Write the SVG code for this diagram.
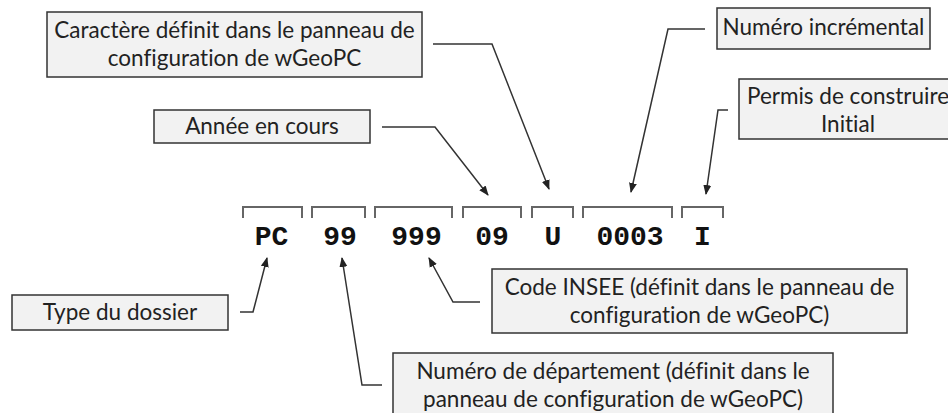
<svg xmlns="http://www.w3.org/2000/svg" width="948" height="413" viewBox="0 0 948 413">
<defs>
<style>
.box{fill:#f2f2f2;stroke:#333;stroke-width:1.5}
.lbl{font-family:Lato,"Open Sans","Liberation Sans",sans-serif;font-size:22.5px;fill:#222;text-anchor:middle;font-variant-ligatures:none}
.code{font-family:"Liberation Mono","Courier New",monospace;font-weight:bold;font-size:28px;fill:#111;text-anchor:middle}
.br{fill:none;stroke:#666;stroke-width:2}
.con{fill:none;stroke:#333;stroke-width:1.5}
</style>
<marker id="ah" markerUnits="userSpaceOnUse" markerWidth="10" markerHeight="10" viewBox="0 0 10 10" refX="9" refY="5" orient="auto">
<path d="M0,1 L10,5 L0,9 Z" fill="#222"/>
</marker>
</defs>
<rect width="948" height="413" fill="#fff"/>

<g id="code">
<path class="br" d="M243,218 V207 H302 V218"/>
<path class="br" d="M312,218 V207 H365 V218"/>
<path class="br" d="M375,218 V207 H452 V218"/>
<path class="br" d="M463,218 V207 H521 V218"/>
<path class="br" d="M532,218 V207 H573 V218"/>
<path class="br" d="M583,218 V207 H672 V218"/>
<path class="br" d="M682,218 V207 H723 V218"/>
<text class="code" x="271.5" y="245">PC</text>
<text class="code" x="340" y="245">99</text>
<text class="code" x="416.5" y="245">999</text>
<text class="code" x="492" y="245">09</text>
<text class="code" x="553" y="245">U</text>
<text class="code" x="630" y="245">0003</text>
<text class="code" x="702.5" y="245">I</text>
</g>

<g id="caractere">
<rect class="box" x="47" y="12" width="375" height="65"/>
<text class="lbl" x="234.5" y="38">Caractère définit dans le panneau de</text>
<text class="lbl" x="234.5" y="66">configuration de wGeoPC</text>
</g>

<g id="annee">
<rect class="box" x="154" y="110" width="216" height="33"/>
<text class="lbl" x="262" y="134">Année en cours</text>
</g>

<g id="numero-incremental">
<rect class="box" x="717" y="8" width="213" height="41"/>
<text class="lbl" x="823.5" y="35">Numéro incrémental</text>
</g>

<g id="permis">
<rect class="box" x="739" y="79" width="222" height="60"/>
<text class="lbl" x="848" y="104">Permis de construire</text>
<text class="lbl" x="848" y="132">Initial</text>
</g>

<g id="type-dossier">
<rect class="box" x="12" y="295" width="216" height="35"/>
<text class="lbl" x="120" y="320">Type du dossier</text>
</g>

<g id="code-insee">
<rect class="box" x="492" y="269" width="415" height="64"/>
<text class="lbl" x="699.5" y="295">Code INSEE (définit dans le panneau de</text>
<text class="lbl" x="699.5" y="323">configuration de wGeoPC)</text>
</g>

<g id="departement">
<rect class="box" x="393" y="353" width="440" height="66"/>
<text class="lbl" x="613" y="379">Numéro de département (définit dans le</text>
<text class="lbl" x="613" y="407">panneau de configuration de wGeoPC)</text>
</g>

<g id="connectors">
<path class="con" d="M433,44 H492 L549,189" marker-end="url(#ah)"/>
<path class="con" d="M382,127 H435 L488,195" marker-end="url(#ah)"/>
<path class="con" d="M705,29 H668 L631,192" marker-end="url(#ah)"/>
<path class="con" d="M728,110 H718 L706,194" marker-end="url(#ah)"/>
<path class="con" d="M240,312 H253 L267,258" marker-end="url(#ah)"/>
<path class="con" d="M382,385 H362 L342,258" marker-end="url(#ah)"/>
<path class="con" d="M480,302 H453 L429,258" marker-end="url(#ah)"/>
</g>
</svg>
